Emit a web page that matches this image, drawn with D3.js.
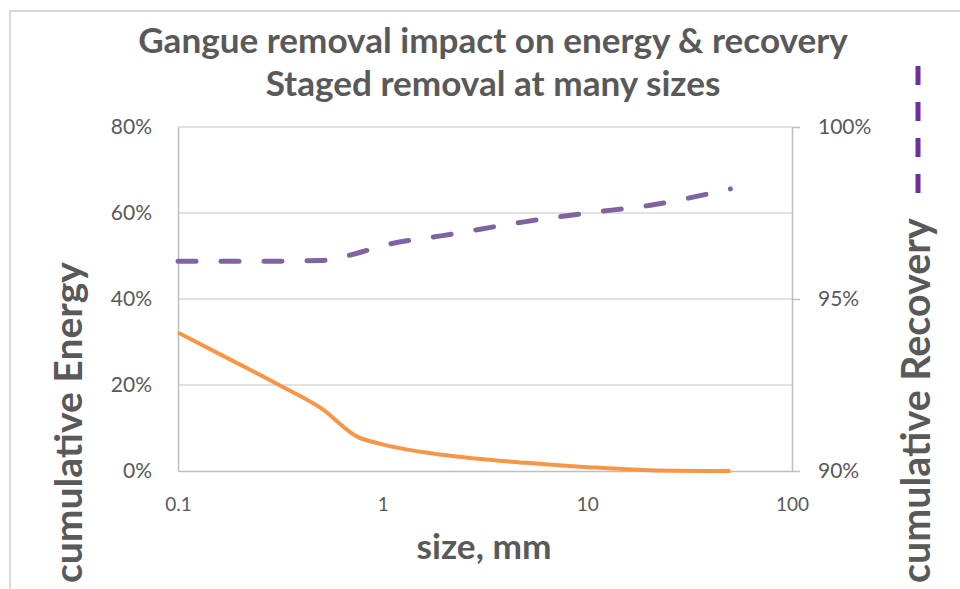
<!DOCTYPE html>
<html>
<head>
<meta charset="utf-8">
<script src="https://cdn.jsdelivr.net/npm/d3@7"></script>
<style>
  body { margin: 0; background: #fff; }
  text { font-family: Lato, "Open Sans", sans-serif; fill: #595959; }
</style>
</head>
<body>
<script>
// data
var sizes = [0.1, 0.2, 0.3, 0.5, 0.75, 1, 2, 5, 10, 20, 50];
var energy = [0.322, 0.248, 0.204, 0.146, 0.080, 0.062, 0.037, 0.019, 0.009, 0.002, 0.000];
var recovery = [0.9610, 0.9610, 0.9610, 0.9612, 0.9633, 0.9655, 0.9685, 0.9725, 0.9750, 0.9772, 0.9820];
var xTicks = [0.1, 1, 10, 100];
var leftTicks = [0, 0.2, 0.4, 0.6, 0.8];
var rightTicks = [0.90, 0.95, 1.00];

var W = 960, H = 589;
var plot = {left: 178, right: 792, top: 127, bottom: 471};

var svg = d3.select('body').append('svg')
    .attr('width', W)
    .attr('height', H);

// chart frame
svg.append('rect')
    .attr('x', 10).attr('y', 11)
    .attr('width', W).attr('height', H)
    .attr('fill', '#fff')
    .attr('stroke', '#D9D9D9')
    .attr('stroke-width', 2);

var x = d3.scaleLog().domain([0.1, 100]).range([plot.left, plot.right]);
var yL = d3.scaleLinear().domain([0, 0.8]).range([plot.bottom, plot.top]);
var yR = d3.scaleLinear().domain([0.9, 1.0]).range([plot.bottom, plot.top]);

// fit a text element to a target width by changing its font size
function fit(sel, target) {
    var w = sel.node().getComputedTextLength();
    var fs = parseFloat(sel.attr('font-size'));
    sel.attr('font-size', fs * target / w);
}

// gridlines
svg.append('g').selectAll('line')
    .data(leftTicks.slice(1))
    .join('line')
    .attr('x1', plot.left).attr('x2', plot.right)
    .attr('y1', function(d){ return yL(d); })
    .attr('y2', function(d){ return yL(d); })
    .attr('stroke', '#D9D9D9')
    .attr('stroke-width', 1.5);

// left axis
var gl = svg.append('g')
    .attr('transform', 'translate(' + plot.left + ',0)')
    .call(d3.axisLeft(yL).tickValues(leftTicks).tickSize(0).tickPadding(26)
        .tickFormat(d3.format('.0%')));
gl.select('.domain').attr('stroke', '#BFBFBF').attr('stroke-width', 1.5);
gl.selectAll('text').attr('font-size', 21).attr('font-family', null).attr('fill', '#595959');

// right axis
var gr = svg.append('g')
    .attr('transform', 'translate(' + plot.right + ',0)')
    .call(d3.axisRight(yR).tickValues(rightTicks).tickSizeInner(8).tickSizeOuter(0).tickPadding(18)
        .tickFormat(d3.format('.0%')));
gr.select('.domain').attr('stroke', '#BFBFBF').attr('stroke-width', 1.5);
gr.selectAll('line').attr('stroke', '#BFBFBF').attr('stroke-width', 1.5);
gr.selectAll('text').attr('font-size', 21).attr('font-family', null).attr('fill', '#595959');

// bottom axis
var gb = svg.append('g')
    .attr('transform', 'translate(0,' + plot.bottom + ')')
    .call(d3.axisBottom(x).tickValues(xTicks).tickSize(0).tickPadding(27)
        .tickFormat(function(d){ return String(d); }));
gb.select('.domain').attr('stroke', '#BFBFBF').attr('stroke-width', 1.5);
gb.selectAll('text').attr('font-size', 19).attr('font-family', null).attr('fill', '#595959');

// series
var lineE = d3.line()
    .x(function(d, i){ return x(sizes[i]); })
    .y(function(d){ return yL(d); })
    .curve(d3.curveMonotoneX);
var lineR = d3.line()
    .x(function(d, i){ return x(sizes[i]); })
    .y(function(d){ return yR(d); })
    .curve(d3.curveMonotoneX);

svg.append('path')
    .datum(energy)
    .attr('d', lineE)
    .attr('fill', 'none')
    .attr('stroke', '#F79646')
    .attr('stroke-width', 4)
    .attr('stroke-linejoin', 'round');

svg.append('path')
    .datum(recovery)
    .attr('d', lineR)
    .attr('fill', 'none')
    .attr('stroke', '#8064A2')
    .attr('stroke-width', 5)
    .attr('stroke-dasharray', '18,25')
    .attr('stroke-linecap', 'round');

// titles
var t1 = svg.append('text')
    .attr('x', 493).attr('y', 53)
    .attr('text-anchor', 'middle')
    .attr('font-weight', 'bold')
    .attr('font-size', 26)
    .text('Gangue removal impact on energy & recovery');
fit(t1, 710);
var t2 = svg.append('text')
    .attr('x', 493).attr('y', 96)
    .attr('text-anchor', 'middle')
    .attr('font-weight', 'bold')
    .attr('font-size', 26)
    .text('Staged removal at many sizes');
fit(t2, 455);

var xt = svg.append('text')
    .attr('x', 484).attr('y', 559)
    .attr('text-anchor', 'middle')
    .attr('font-weight', 'bold')
    .attr('font-size', 24)
    .text('size, mm');
fit(xt, 135);

var lt = svg.append('text')
    .attr('transform', 'translate(82,583) rotate(-90)')
    .attr('font-weight', 'bold')
    .attr('font-size', 30)
    .text('cumulative Energy');
fit(lt, 321);

var rt = svg.append('text')
    .attr('transform', 'translate(930,583) rotate(-90)')
    .attr('font-weight', 'bold')
    .attr('font-size', 30)
    .text('cumulative Recovery');
fit(rt, 365);

// dashed key mark trailing the right axis title
svg.append('line')
    .attr('x1', 918).attr('x2', 918)
    .attr('y1', 193).attr('y2', 63)
    .attr('stroke', '#7030A0')
    .attr('stroke-width', 5)
    .attr('stroke-dasharray', '19,17');
</script>
</body>
</html>
